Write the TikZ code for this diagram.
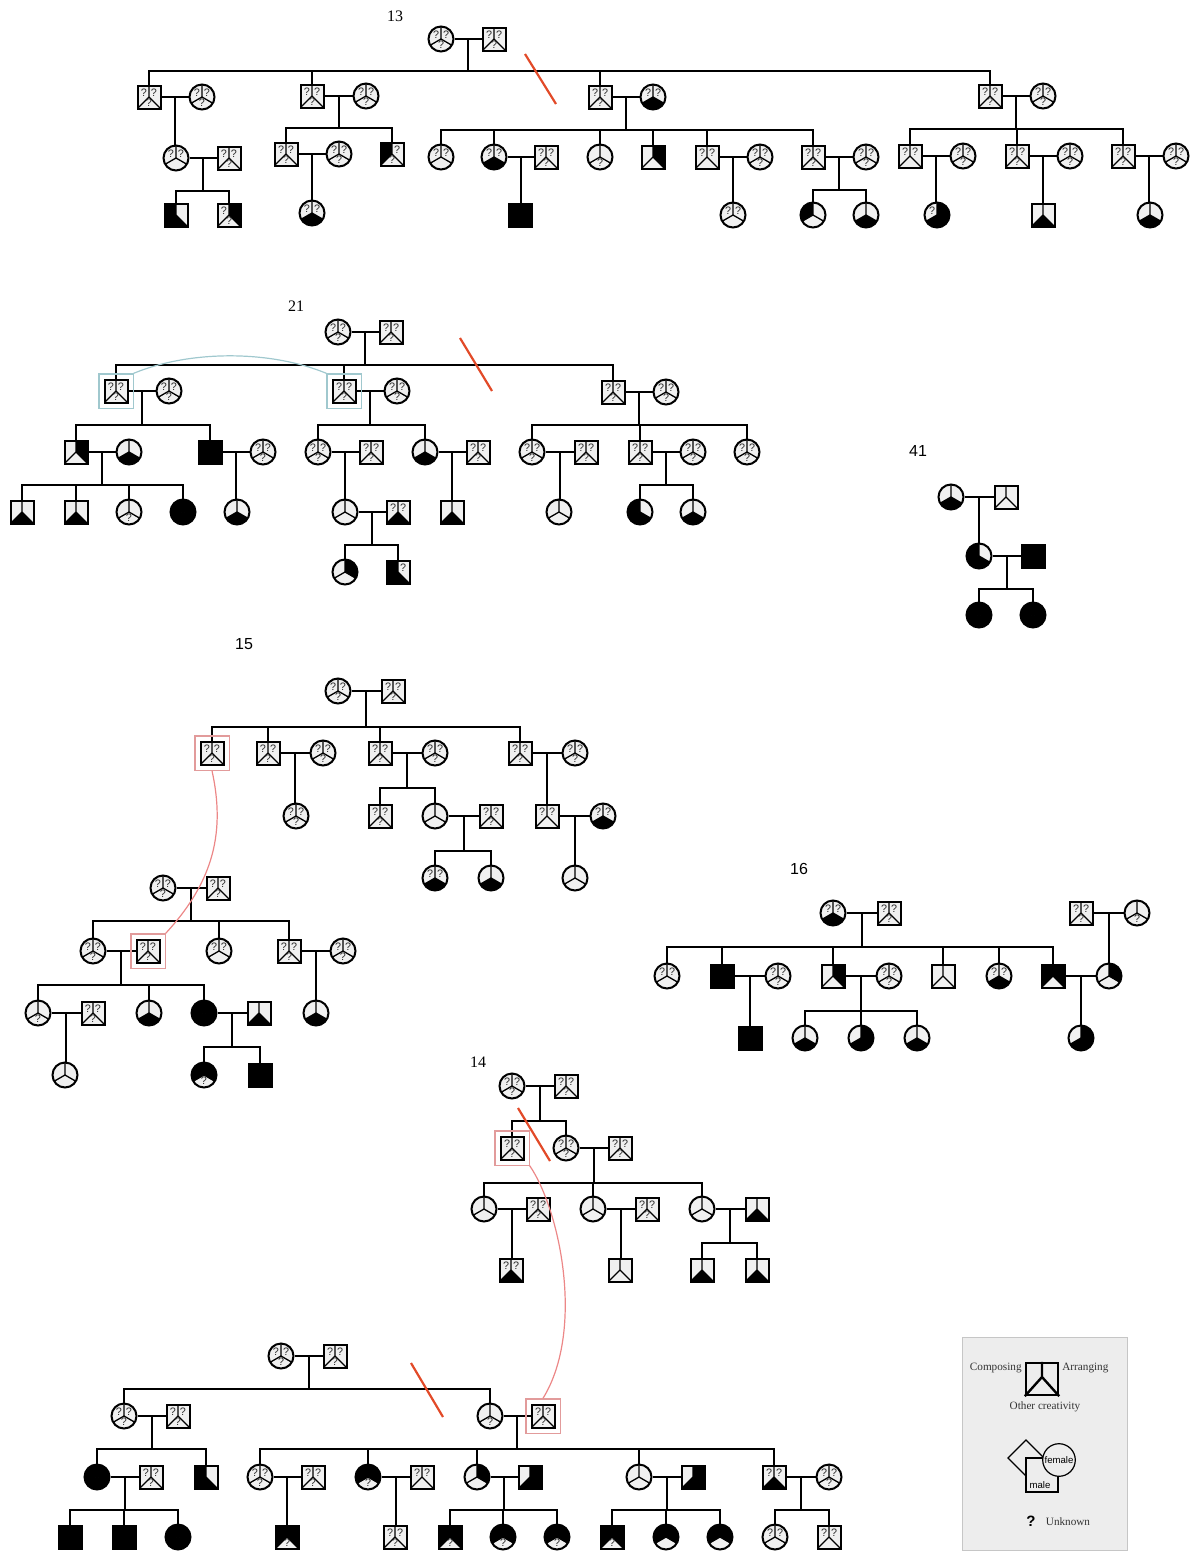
\documentclass[tikz,border=0pt]{standalone}
\usepackage{fontspec}
\setmainfont{Liberation Serif}
\newfontfamily\helv{Liberation Sans}
\usetikzlibrary{fit}
\definecolor{blank}{gray}{0.94}
\definecolor{legbg}{gray}{0.93}
\definecolor{slash}{RGB}{226,74,40}
\definecolor{linkred}{RGB}{236,135,135}
\definecolor{boxred}{RGB}{226,155,155}
\definecolor{linkblue}{RGB}{160,200,206}
\tikzset{
  pline/.style={line width=1pt},
  yline/.style={line width=0.65pt},
  sqr/.style={draw, line width=1pt, minimum size=11.5pt, inner sep=0pt},
  circ/.style={draw, circle, line width=1pt, minimum size=12.5pt, inner sep=0pt},
  qm/.style={font=\fontsize{5.4}{6}\selectfont\helv, text=gray!35!black, inner sep=0pt},
  cut/.style={draw=slash, line width=1.1pt},
  hlred/.style={draw=boxred, line width=0.6pt, inner sep=2.3pt},
  hlblue/.style={draw=linkblue, line width=0.6pt, inner sep=2.3pt},
  famlabel/.style={font=\fontsize{8}{9}\selectfont},
  famlabelsf/.style={font=\fontsize{8}{9}\selectfont\helv},
  legtext/.style={font=\fontsize{5.6}{6}\selectfont, text=black!80, inner sep=1pt},
  legsf/.style={font=\fontsize{4.8}{5}\selectfont\helv, inner sep=0pt},
  legshape/.style={draw, fill=legbg, line width=0.6pt, inner sep=0pt},
}
% one person: name, x, y, s/c, composing, arranging, other (0 none, 1 yes, 2 unknown)
\newcommand{\person}[7]{%
  \begin{scope}[shift={(#2,#3)}]
    \ifnum#5=1 \def\fa{black}\else\def\fa{blank}\fi
    \ifnum#6=1 \def\fb{black}\else\def\fb{blank}\fi
    \ifnum#7=1 \def\fc{black}\else\def\fc{blank}\fi
    \if#4s
      \fill[fill=\fa] (0,-11.5) -- (-11.5,-11.5) -- (-11.5,11.5) -- (0,0) -- cycle;
      \fill[fill=\fb] (0,-11.5) -- (11.5,-11.5) -- (11.5,11.5) -- (0,0) -- cycle;
      \fill[fill=\fc] (0,0) -- (-11.5,11.5) -- (11.5,11.5) -- cycle;
      \draw[yline] (0,-11.5) -- (0,0) -- (-11.5,11.5) (0,0) -- (11.5,11.5);
      \node[sqr] (#1) at (0,0) {};
      \ifnum#5=2 \node[qm] at (-5,-4.5) {?};\fi
      \ifnum#6=2 \node[qm] at (5,-4.5) {?};\fi
      \ifnum#7=2 \node[qm] at (0,5.5) {?};\fi
    \else
      \begin{scope}
        \clip (0,0) circle[radius=12.5];
        \fill[fill=\fa] (0,0) -- (0,-14) -- (-14,-14) -- (-14,8.08) -- cycle;
        \fill[fill=\fb] (0,0) -- (0,-14) -- (14,-14) -- (14,8.08) -- cycle;
        \fill[fill=\fc] (0,0) -- (-14,8.08) -- (-14,14) -- (14,14) -- (14,8.08) -- cycle;
      \end{scope}
      \draw[yline] (0,-12.5) -- (0,0) -- (-10.83,6.25) (0,0) -- (10.83,6.25);
      \node[circ] (#1) at (0,0) {};
      \ifnum#5=2 \node[qm] at (-5,-4) {?};\fi
      \ifnum#6=2 \node[qm] at (5,-4) {?};\fi
      \ifnum#7=2 \node[qm] at (0,6) {?};\fi
    \fi
  \end{scope}}
\newcommand{\couple}[3]{\draw[pline] (#1.east) -- (#2.west) coordinate[midway] (#3);}
\newcommand{\onekid}[2]{\draw[pline] (#1) -- (#1 |- #2.north);}
\newcommand{\sibship}[3]{%
  \draw[pline] (#1) -- (#1 |- 0,#2);
  \foreach \kid in {#3} {\draw[pline] (\kid.north) -- (\kid.north |- 0,#2) -- (#1 |- 0,#2);}}

\begin{document}
\begin{tikzpicture}[x=0.5pt,y=-0.5pt]
\useasboundingbox (0,0) rectangle (1192,1553);
% 13
\node[famlabel] (lab13) at (395,16) {13};
\person{a1}{441}{39}{c}{2}{2}{2}
\person{a2}{494}{39}{s}{2}{2}{2}
\couple{a1}{a2}{am1}
\person{a3}{149}{97}{s}{2}{2}{2}
\person{a4}{202}{97}{c}{2}{2}{2}
\person{a5}{312}{96}{s}{2}{2}{2}
\person{a6}{366}{96}{c}{2}{2}{2}
\person{a7}{600}{97}{s}{2}{2}{2}
\person{a8}{653}{97}{c}{2}{2}{1}
\person{a9}{990}{96}{s}{2}{2}{2}
\person{a10}{1043}{96}{c}{2}{2}{2}
\sibship{am1}{71}{a3,a5,a7,a9}
\couple{a3}{a4}{am2}
\couple{a5}{a6}{am3}
\couple{a7}{a8}{am4}
\couple{a9}{a10}{am5}
\draw[cut] (525,54) -- (556,104);
\person{a11}{176}{158}{c}{2}{2}{0}
\person{a12}{229}{158}{s}{2}{2}{2}
\onekid{am2}{a11}
\couple{a11}{a12}{am6}
\person{a13}{286}{154}{s}{2}{2}{2}
\person{a14}{339}{154}{c}{2}{2}{2}
\person{a15}{392}{154}{s}{1}{2}{2}
\sibship{am3}{128}{a13,a15}
\couple{a13}{a14}{am7}
\person{a17}{441}{157}{c}{2}{2}{0}
\person{a18}{494}{157}{c}{2}{2}{1}
\person{a19}{546}{157}{s}{2}{2}{2}
\person{a21}{600}{157}{c}{0}{0}{2}
\person{a22}{653}{157}{s}{0}{1}{0}
\person{a23}{707}{157}{s}{2}{2}{0}
\person{a24}{760}{157}{c}{2}{2}{2}
\person{a26}{813}{157}{s}{2}{2}{2}
\person{a27}{866}{157}{c}{2}{2}{2}
\sibship{am4}{130}{a17,a18,a21,a22,a23,a26}
\couple{a18}{a19}{am8}
\couple{a23}{a24}{am9}
\couple{a26}{a27}{am10}
\person{a30}{910}{156}{s}{2}{2}{0}
\person{a31}{963}{156}{c}{2}{2}{2}
\person{a33}{1017}{156}{s}{2}{2}{2}
\person{a34}{1070}{156}{c}{2}{2}{2}
\person{a36}{1123}{156}{s}{2}{2}{2}
\person{a37}{1176}{156}{c}{2}{2}{2}
\sibship{am5}{129}{a30,a33,a36}
\couple{a30}{a31}{am11}
\couple{a33}{a34}{am12}
\couple{a36}{a37}{am13}
\person{a39}{176}{215}{s}{1}{0}{1}
\person{a40}{229}{215}{s}{2}{1}{2}
\sibship{am6}{191}{a39,a40}
\person{a16}{312}{213}{c}{2}{2}{1}
\onekid{am7}{a16}
\person{a20}{520}{215}{s}{1}{1}{1}
\onekid{am8}{a20}
\person{a25}{733}{215}{c}{2}{2}{0}
\onekid{am9}{a25}
\person{a28}{813}{215}{c}{1}{0}{0}
\person{a29}{866}{215}{c}{0}{0}{1}
\sibship{am10}{190}{a28,a29}
\person{a32}{937}{215}{c}{2}{1}{1}
\onekid{am11}{a32}
\person{a35}{1043}{215}{s}{0}{0}{1}
\onekid{am12}{a35}
\person{a38}{1150}{215}{c}{0}{0}{1}
\onekid{am13}{a38}
% 21
\node[famlabel] (lab21) at (296,306) {21};
\person{b1}{338}{332}{c}{2}{2}{2}
\person{b2}{391}{332}{s}{2}{2}{2}
\couple{b1}{b2}{bm1}
\person{b3}{116}{391}{s}{2}{2}{2}
\person{b4}{169}{391}{c}{2}{2}{2}
\person{b5}{344}{391}{s}{2}{2}{2}
\person{b6}{397}{391}{c}{2}{2}{2}
\person{b7}{613}{392}{s}{2}{2}{2}
\person{b8}{666}{392}{c}{2}{2}{2}
\sibship{bm1}{365}{b3,b5,b7}
\couple{b3}{b4}{bm2}
\couple{b5}{b6}{bm3}
\couple{b7}{b8}{bm4}
\node[hlblue, fit=(b3)] (hb3) {};
\node[hlblue, fit=(b5)] (hb5) {};
\draw[linkblue, line width=0.6pt] (hb3.north east) .. controls (190,350) and (270,350) .. (hb5.north west);
\draw[cut] (460,338) -- (492,391);
\person{b9}{76}{452}{s}{0}{1}{0}
\person{b10}{129}{452}{c}{0}{0}{1}
\person{b11}{210}{452}{s}{1}{1}{1}
\person{b12}{263}{452}{c}{2}{2}{2}
\sibship{bm2}{425}{b9,b11}
\couple{b9}{b10}{bm5}
\couple{b11}{b12}{bm6}
\person{b18}{318}{452}{c}{2}{2}{2}
\person{b19}{371}{452}{s}{2}{2}{2}
\person{b20}{425}{452}{c}{0}{0}{1}
\person{b21}{478}{452}{s}{2}{2}{2}
\sibship{bm3}{425}{b18,b20}
\couple{b18}{b19}{bm7}
\couple{b20}{b21}{bm8}
\person{b27}{532}{452}{c}{2}{2}{2}
\person{b28}{586}{452}{s}{2}{2}{2}
\person{b29}{640}{452}{s}{2}{2}{2}
\person{b30}{693}{452}{c}{2}{2}{2}
\person{b31}{747}{452}{c}{2}{2}{2}
\sibship{bm4}{425}{b27,b29,b31}
\couple{b27}{b28}{bm10}
\couple{b29}{b30}{bm11}
\person{b13}{22}{512}{s}{0}{0}{1}
\person{b14}{76}{512}{s}{0}{0}{1}
\person{b15}{129}{512}{c}{0}{0}{2}
\person{b16}{183}{512}{c}{1}{1}{1}
\sibship{bm5}{485}{b13,b14,b15,b16}
\person{b17}{237}{512}{c}{0}{0}{1}
\onekid{bm6}{b17}
\person{b22}{345}{512}{c}{0}{0}{0}
\person{b23}{398}{512}{s}{2}{2}{1}
\onekid{bm7}{b22}
\couple{b22}{b23}{bm9}
\person{b26}{452}{512}{s}{0}{0}{1}
\onekid{bm8}{b26}
\person{b32}{559}{512}{c}{0}{0}{0}
\onekid{bm10}{b32}
\person{b33}{640}{512}{c}{1}{0}{1}
\person{b34}{693}{512}{c}{0}{0}{1}
\sibship{bm11}{485}{b33,b34}
\person{b24}{345}{572}{c}{0}{1}{0}
\person{b25}{398}{572}{s}{1}{2}{1}
\sibship{bm9}{545}{b24,b25}
% 41
\node[famlabelsf] (lab41) at (918,451) {41};
\person{c1}{951}{497}{c}{0}{0}{1}
\person{c2}{1006}{497}{s}{0}{0}{0}
\couple{c1}{c2}{cm1}
\person{c3}{979}{556}{c}{1}{0}{1}
\person{c4}{1033}{556}{s}{1}{1}{1}
\onekid{cm1}{c3}
\couple{c3}{c4}{cm2}
\person{c5}{979}{615}{c}{1}{1}{1}
\person{c6}{1033}{615}{c}{1}{1}{1}
\sibship{cm2}{589}{c5,c6}
% 15
\node[famlabelsf] (lab15) at (244,644) {15};
\person{d1}{338}{691}{c}{2}{2}{2}
\person{d2}{393}{691}{s}{2}{2}{2}
\couple{d1}{d2}{dm1}
\person{d3}{212}{753}{s}{2}{2}{2}
\person{d4}{268}{753}{s}{2}{2}{2}
\person{d5}{323}{753}{c}{2}{2}{2}
\person{d6}{380}{753}{s}{2}{2}{2}
\person{d7}{435}{753}{c}{2}{2}{2}
\person{d8}{520}{753}{s}{2}{2}{2}
\person{d9}{575}{753}{c}{2}{2}{2}
\sibship{dm1}{727}{d3,d4,d6,d8}
\couple{d4}{d5}{dm2}
\couple{d6}{d7}{dm3}
\couple{d8}{d9}{dm5}
\node[hlred, fit=(d3)] (hd3) {};
\person{d10}{296}{816}{c}{2}{2}{2}
\onekid{dm2}{d10}
\person{d11}{380}{816}{s}{2}{2}{2}
\person{d12}{435}{816}{c}{0}{0}{0}
\person{d13}{491}{816}{s}{2}{2}{2}
\sibship{dm3}{788}{d11,d12}
\couple{d12}{d13}{dm4}
\person{d16}{547}{816}{s}{2}{2}{0}
\person{d17}{603}{816}{c}{2}{2}{1}
\onekid{dm5}{d16}
\couple{d16}{d17}{dm6}
\person{d14}{435}{878}{c}{2}{2}{1}
\person{d15}{491}{878}{c}{0}{0}{1}
\sibship{dm4}{851}{d14,d15}
\person{d18}{575}{878}{c}{0}{0}{0}
\onekid{dm6}{d18}
\person{e1}{163}{888}{c}{2}{2}{2}
\person{e2}{218}{888}{s}{2}{2}{2}
\couple{e1}{e2}{em1}
\person{e3}{93}{951}{c}{2}{2}{2}
\person{e4}{148}{951}{s}{2}{2}{2}
\person{e5}{219}{951}{c}{2}{2}{0}
\person{e6}{289}{951}{s}{2}{2}{2}
\person{e7}{343}{951}{c}{2}{2}{2}
\sibship{em1}{921}{e3,e5,e6}
\couple{e3}{e4}{em2}
\couple{e6}{e7}{em5}
\node[hlred, fit=(e4)] (he4) {};
\draw[linkred, line width=0.6pt] (hd3.south) .. controls (225,830) and (215,880) .. (he4.north east);
\person{e8}{38}{1013}{c}{0}{0}{2}
\person{e9}{93}{1013}{s}{2}{2}{2}
\person{e10}{149}{1013}{c}{0}{0}{1}
\person{e11}{204}{1013}{c}{1}{1}{1}
\person{e12}{259}{1013}{s}{0}{0}{1}
\sibship{em2}{985}{e8,e10,e11}
\couple{e8}{e9}{em3}
\couple{e11}{e12}{em4}
\person{e16}{316}{1013}{c}{0}{0}{1}
\onekid{em5}{e16}
\person{e13}{65}{1075}{c}{0}{0}{0}
\onekid{em3}{e13}
\person{e14}{204}{1075}{c}{1}{1}{2}
\person{e15}{260}{1075}{s}{1}{1}{1}
\sibship{em4}{1047}{e14,e15}
% 16
\node[famlabelsf] (lab16) at (799,869) {16};
\person{f1}{833}{913}{c}{2}{2}{1}
\person{f2}{889}{913}{s}{2}{2}{2}
\couple{f1}{f2}{fm1}
\person{f3}{1081}{913}{s}{2}{2}{2}
\person{f4}{1137}{913}{c}{0}{0}{2}
\couple{f3}{f4}{fm2}
\person{f5}{667}{976}{c}{2}{2}{0}
\person{f6}{722}{976}{s}{1}{1}{1}
\person{f7}{778}{976}{c}{2}{2}{2}
\person{f9}{833}{976}{s}{0}{1}{0}
\person{f10}{889}{976}{c}{2}{2}{2}
\person{f14}{943}{976}{s}{0}{0}{0}
\person{f15}{999}{976}{c}{2}{2}{1}
\person{f16}{1053}{976}{s}{1}{1}{0}
\person{f17}{1109}{976}{c}{0}{1}{0}
\sibship{fm1}{947}{f5,f6,f9,f14,f15,f16}
\onekid{fm2}{f17}
\couple{f6}{f7}{fm3}
\couple{f9}{f10}{fm4}
\couple{f16}{f17}{fm5}
\person{f8}{750}{1038}{s}{1}{1}{1}
\onekid{fm3}{f8}
\person{f11}{805}{1038}{c}{0}{0}{1}
\person{f12}{861}{1038}{c}{0}{1}{1}
\person{f13}{917}{1038}{c}{0}{0}{1}
\sibship{fm4}{1011}{f11,f12,f13}
\person{f18}{1081}{1038}{c}{0}{1}{1}
\onekid{fm5}{f18}
% 14
\node[famlabel] (lab14) at (478,1062) {14};
\person{g1}{512}{1086}{c}{2}{2}{2}
\person{g2}{566}{1086}{s}{2}{2}{2}
\couple{g1}{g2}{gm1}
\person{g3}{512}{1148}{s}{2}{2}{2}
\person{g4}{566}{1148}{c}{2}{2}{2}
\person{g5}{620}{1148}{s}{2}{2}{2}
\sibship{gm1}{1121}{g3,g4}
\couple{g4}{g5}{gm2}
\node[hlred, fit=(g3)] (hg3) {};
\draw[cut] (518,1108) -- (550,1161);
\person{g6}{484}{1209}{c}{0}{0}{0}
\person{g7}{538}{1209}{s}{2}{2}{2}
\person{g8}{593}{1209}{c}{0}{0}{0}
\person{g9}{647}{1209}{s}{2}{2}{2}
\person{g10}{702}{1209}{c}{0}{0}{0}
\person{g11}{757}{1209}{s}{0}{0}{1}
\sibship{gm2}{1183}{g6,g8,g10}
\couple{g6}{g7}{gm3}
\couple{g8}{g9}{gm4}
\couple{g10}{g11}{gm5}
\person{g12}{511}{1270}{s}{2}{2}{1}
\onekid{gm3}{g12}
\person{g13}{620}{1270}{s}{0}{0}{0}
\onekid{gm4}{g13}
\person{g14}{702}{1270}{s}{0}{0}{1}
\person{g15}{757}{1270}{s}{0}{0}{1}
\sibship{gm5}{1243}{g14,g15}
\person{h1}{281}{1356}{c}{2}{2}{2}
\person{h2}{335}{1356}{s}{2}{2}{2}
\couple{h1}{h2}{hm1}
\person{h3}{124}{1416}{c}{2}{2}{2}
\person{h4}{178}{1416}{s}{2}{2}{2}
\person{h5}{490}{1416}{c}{0}{0}{2}
\person{h6}{543}{1416}{s}{2}{2}{2}
\sibship{hm1}{1389}{h3,h5}
\couple{h3}{h4}{hm2}
\couple{h5}{h6}{hm3}
\node[hlred, fit=(h6)] (hh6) {};
\draw[linkred, line width=0.6pt] (hg3.south east) .. controls (560,1210) and (585,1330) .. (hh6.north);
\draw[cut] (411,1363) -- (443,1417);
\person{h7}{97}{1477}{c}{1}{1}{1}
\person{h8}{151}{1477}{s}{2}{2}{2}
\person{h9}{206}{1477}{s}{1}{0}{1}
\sibship{hm2}{1449}{h7,h9}
\couple{h7}{h8}{hm4}
\person{h11}{260}{1477}{c}{2}{2}{2}
\person{h12}{313}{1477}{s}{2}{2}{2}
\person{h13}{368}{1477}{c}{1}{1}{2}
\person{h14}{422}{1477}{s}{2}{2}{0}
\person{h15}{477}{1477}{c}{0}{1}{0}
\person{h16}{530}{1477}{s}{0}{1}{1}
\person{h17}{639}{1477}{c}{0}{0}{0}
\person{h18}{693}{1477}{s}{0}{1}{1}
\person{h19}{774}{1477}{s}{2}{2}{1}
\person{h20}{829}{1477}{c}{2}{2}{2}
\sibship{hm3}{1449}{h11,h13,h15,h17,h19}
\couple{h11}{h12}{hm5}
\couple{h13}{h14}{hm6}
\couple{h15}{h16}{hm7}
\couple{h17}{h18}{hm8}
\couple{h19}{h20}{hm9}
\person{h21}{70}{1537}{s}{1}{1}{1}
\person{h22}{124}{1537}{s}{1}{1}{1}
\person{h23}{178}{1537}{c}{1}{1}{1}
\sibship{hm4}{1510}{h21,h22,h23}
\person{h24}{287}{1537}{s}{1}{1}{2}
\onekid{hm5}{h24}
\person{h25}{395}{1537}{s}{2}{2}{2}
\onekid{hm6}{h25}
\person{h26}{450}{1537}{s}{1}{1}{2}
\person{h27}{503}{1537}{c}{1}{1}{2}
\person{h28}{557}{1537}{c}{1}{1}{2}
\sibship{hm7}{1510}{h26,h27,h28}
\person{h29}{612}{1537}{s}{1}{1}{2}
\person{h30}{666}{1537}{c}{1}{1}{0}
\person{h31}{720}{1537}{c}{1}{1}{0}
\sibship{hm8}{1510}{h29,h30,h31}
\person{h32}{775}{1537}{c}{2}{2}{0}
\person{h33}{829}{1537}{s}{2}{2}{0}
\sibship{hm9}{1510}{h32,h33}
% legend
\draw[draw=gray!45, fill=legbg, line width=0.5pt] (962,1337) rectangle (1127,1550);
\node[draw, line width=1.2pt, minimum size=16pt, inner sep=0pt] (legsq) at (1042,1379) {};
\draw[line width=1.2pt] (legsq.north) -- (1042,1377) -- (legsq.south west) (1042,1377) -- (legsq.south east);
\node[legtext, anchor=east] (legc) at (1024,1368) {Composing};
\node[legtext, anchor=west] (lega) at (1060,1368) {Arranging};
\node[legtext] (lego) at (1045,1407) {Other creativity};
\draw[fill=legbg, line width=0.6pt] (1008,1458) -- (1026,1440) -- (1044,1458) -- (1026,1476) -- cycle;
\node[legshape, minimum width=16pt, minimum height=17pt] (legmale) at (1042,1475) {};
\node[legshape, circle, minimum size=16.3pt] (legfem) at (1059,1460) {};
\node[legsf] (legfemtxt) at (legfem) {female};
\node[legsf] (legmaletxt) at (1040,1485) {male};
\node[font=\fontsize{7.5}{8}\selectfont\helv\bfseries, inner sep=0pt] (legq) at (1031,1521) {?};
\node[legtext] (legu) at (1068,1522) {Unknown};
\end{tikzpicture}
\end{document}
